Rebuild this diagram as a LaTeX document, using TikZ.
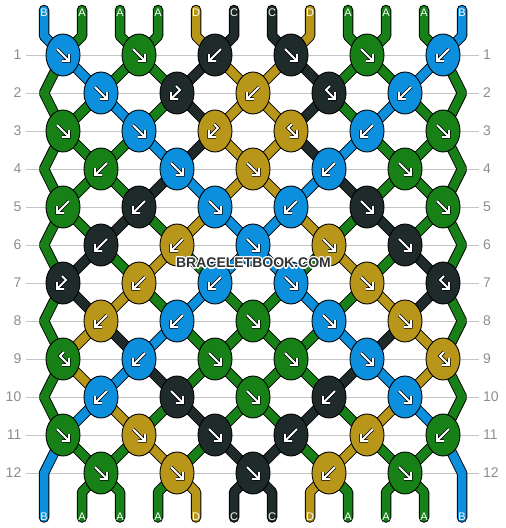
\documentclass[tikz,border=0pt]{standalone}
\usepackage{fontspec}
\setmainfont{Liberation Sans}
\usetikzlibrary{shapes.geometric}
\pgfdeclarelayer{back}
\pgfsetlayers{back,main}

\definecolor{colA}{HTML}{178017}
\definecolor{colB}{HTML}{0C8FDD}
\definecolor{colC}{HTML}{1F2A2A}
\definecolor{colD}{HTML}{B8961A}
\definecolor{linegray}{HTML}{C4C4C4}
\definecolor{numgray}{HTML}{8E8E8E}
\definecolor{markgray}{HTML}{333333}

% white rim round the watermark
\newcommand{\wmhalo}[1]{\leavevmode
  \foreach \dx/\dy in {-1.3/0,1.3/0,0/-1.3,0/1.3,-0.9/-0.9,0.9/0.9,-0.9/0.9,0.9/-0.9}{%
    \rlap{\kern\dx pt\raisebox{\dy pt}{\color{white}#1}}}%
  #1}

\tikzset{
  knot/.style={ellipse, draw=black, line width=0.9pt, fill=col#1,
    minimum width=34pt, minimum height=42pt, inner sep=0pt},
  thread/.style={draw=black, double=col#1, line width=1pt,
    double distance=8.5pt, line cap=round, line join=bevel},
  glyph/.style={draw=black, double=white, line width=0.7pt,
    double distance=1.8pt, line join=miter},
  rowline/.style={draw=linegray, line width=0.8pt},
  rownum/.style={text=numgray, font=\fontsize{14}{14}\selectfont, inner sep=0pt},
  strlabel/.style={text=white, font=\fontsize{11}{11}\selectfont, inner sep=0pt},
  fw/.pic={\draw[glyph] (-6,-6) -- (6,6) (-1,6) -- (6,6) -- (6,-1);},
  bw/.pic={\draw[glyph] (6,-6) -- (-6,6) (1,6) -- (-6,6) -- (-6,-1);},
  fb/.pic={\draw[glyph] (1,-7) -- (-3,-3) -- (6,6) (-1,6) -- (6,6) -- (6,-1);},
  bf/.pic={\draw[glyph] (-1,-7) -- (3,-3) -- (-6,6) (1,6) -- (-6,6) -- (-6,-1);},
}

\begin{document}
\begin{tikzpicture}[x=1pt,y=-1pt]
\begin{pgfonlayer}{back}
\fill[white] (0,0) rectangle (506,528);
\foreach \r in {1,...,12}
  \draw[rowline] (26,17+38*\r) -- (479,17+38*\r);
\end{pgfonlayer}
\useasboundingbox (0,0) rectangle (506,528);

% row numbers
\foreach \r in {1,...,12}{
  \node[rownum, anchor=east] (nl-\r) at (21.5,17+38*\r) {\r};
  \node[rownum, anchor=west] (nr-\r) at (483,17+38*\r) {\r};
}

% knots: colour / kind
\foreach \r/\knots in {
  1/{B/fw,A/fw,C/bw,C/fw,A/fw,B/bw},
  2/{B/fw,C/bf,D/bw,C/fb,B/bw},
  3/{A/fw,B/fw,D/bf,D/fb,B/bw,A/fw},
  4/{A/bw,B/fw,D/fw,B/bw,A/fw},
  5/{A/bw,C/bw,B/fw,B/bw,C/fw,A/fw},
  6/{C/bw,D/bw,B/fw,D/fw,C/fw},
  7/{C/bf,D/bw,B/bw,B/fw,D/fw,C/fb},
  8/{D/bw,B/bw,A/fw,B/fw,D/fw},
  9/{A/fb,B/bw,A/fw,A/fw,B/fw,D/fb},
  10/{B/bw,C/fw,A/fw,C/bw,B/fw},
  11/{A/fw,D/fw,C/fw,C/bw,D/bw,A/bw},
  12/{A/fw,D/fw,C/fw,D/bw,A/fw}}{
  \pgfmathtruncatemacro\odd{mod(\r,2)}
  \foreach \c/\t [count=\i] in \knots{
    \pgfmathsetmacro\kx{63+38*(1-\odd)+76*(\i-1)}
    \node[knot=\c] (k-\r-\i) at (\kx,17+38*\r) {};
    \pic at (k-\r-\i) {\t};
  }
}

% string ends and labels
\foreach \c [count=\p from 0] in {B,A,A,A,D,C,C,D,A,A,A,B}{
  \pgfmathsetmacro\sx{44+38*\p}
  \coordinate (top-\p) at (\sx,10);
  \coordinate (s-0-\p) at (\sx,36);
  \coordinate (bot-\p) at (\sx,517.5);
  \ifnum\p=0 \coordinate (s-13-\p) at (\sx,517.5);
  \else\ifnum\p=11 \coordinate (s-13-\p) at (\sx,517.5);
  \else \coordinate (s-13-\p) at (\sx,492);
  \fi\fi
  \node[strlabel] (lt-\p) at (\sx,12.5) {\c};
  \node[strlabel] (lb-\p) at (\sx,516.5) {\c};
}

% where each string position sits in each row
\foreach \r in {1,...,12}{
  \pgfmathtruncatemacro\odd{mod(\r,2)}
  \foreach \p in {0,...,11}{
    \pgfmathtruncatemacro\i{\odd==1 ? int(\p/2)+1 : int((\p+1)/2)}
    \pgfmathtruncatemacro\side{(\odd==0)&&((\p==0)||(\p==11))}
    \ifnum\side=1 \coordinate (s-\r-\p) at (44+38*\p,17+38*\r);
    \else \coordinate (s-\r-\p) at (k-\r-\i);
    \fi
  }
}

% threads between rows
\begin{pgfonlayer}{back}
\foreach \r/\cols in {
  0/{B,A,A,A,D,C,C,D,A,A,A,B},
  1/{A,B,A,A,C,D,D,C,A,A,B,A},
  2/{A,A,B,A,C,D,D,C,A,B,A,A},
  3/{A,A,A,B,C,D,D,C,B,A,A,A},
  4/{A,A,A,C,B,D,D,B,C,A,A,A},
  5/{A,A,C,A,D,B,B,D,A,C,A,A},
  6/{A,C,A,D,A,B,B,A,D,A,C,A},
  7/{A,C,D,A,B,A,A,B,A,D,C,A},
  8/{A,D,C,B,A,A,A,A,B,C,D,A},
  9/{A,D,B,C,A,A,A,A,C,B,D,A},
  10/{A,B,D,A,C,A,A,C,A,D,B,A},
  11/{B,A,A,D,A,C,C,A,D,A,A,B},
  12/{B,A,A,A,D,C,C,D,A,A,A,B}}{
  \pgfmathtruncatemacro\ra{\r+1}
  \pgfmathtruncatemacro\rb{\r+2}
  \pgfmathtruncatemacro\odd{mod(\r,2)}
  \foreach \c [count=\p from 0] in \cols{
    \pgfmathtruncatemacro\side{(\p==0)||(\p==11)}
    \ifnum\r=0
      \draw[thread=\c] (top-\p) -- (s-0-\p) -- (s-1-\p);
    \else\ifnum\side=1
      \ifnum\odd=1 \draw[thread=\c] (s-\r-\p) -- (s-\ra-\p) -- (s-\rb-\p); \fi
    \else\ifnum\r=12
      \draw[thread=\c] (s-12-\p) -- (s-13-\p) -- (bot-\p);
    \else
      \draw[thread=\c] (s-\r-\p) -- (s-\ra-\p);
    \fi\fi\fi
  }
}
\end{pgfonlayer}

\node[font=\bfseries\fontsize{14}{14}\selectfont, text=markgray] (mark) at (253.5,263) {\wmhalo{BRACELETBOOK.COM}};
\end{tikzpicture}
\end{document}
